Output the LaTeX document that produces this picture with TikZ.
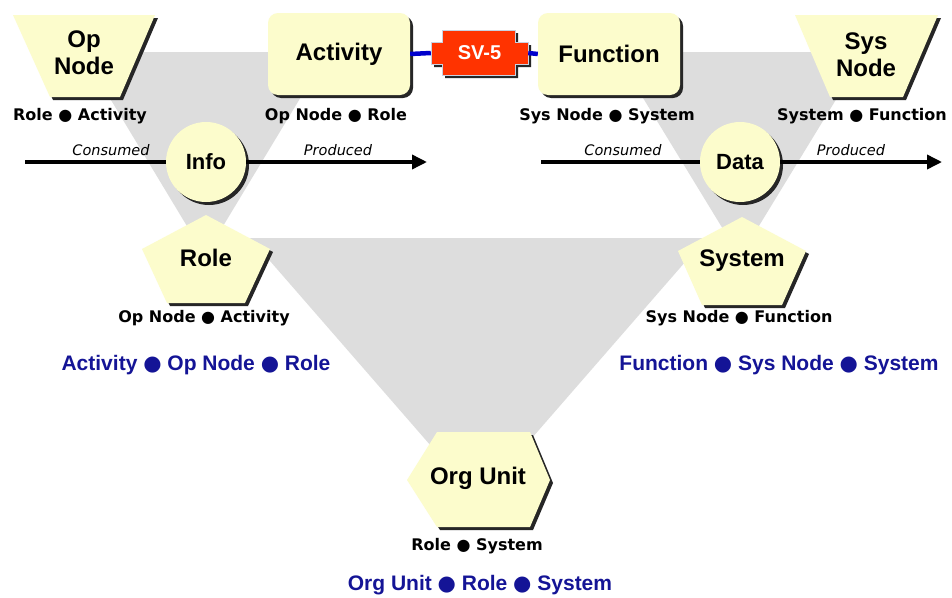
\documentclass[tikz,border=0pt]{standalone}
\usepackage{fontspec}
\setmainfont{Liberation Sans}
\newfontfamily\dvs{DejaVu Sans}
\usetikzlibrary{shadows,arrows.meta}
\definecolor{yel}{RGB}{252,252,204}
\definecolor{gry}{RGB}{221,221,221}
\definecolor{navyblue}{RGB}{20,20,150}
\definecolor{svred}{RGB}{255,51,0}
\definecolor{svedge}{RGB}{200,210,225}
\definecolor{lineblue}{RGB}{0,0,204}
\newcommand\bul{{\dvs ●}}
\tikzset{
  shad/.style={drop shadow={shadow xshift=3pt,shadow yshift=-3pt,opacity=1,fill=black!85}},
  yshape/.style={fill=yel,shad},
  bigtxt/.style={font=\fontsize{24}{27}\selectfont\bfseries,align=center,inner sep=0pt},
  boxnode/.style={rectangle,rounded corners=10pt,minimum width=142pt,minimum height=82pt,
    fill=yel,shad,font=\fontsize{24}{27}\selectfont\bfseries,inner sep=0pt},
  circnode/.style={circle,minimum size=80pt,fill=yel,shad,
    font=\fontsize{22}{24}\selectfont\bfseries,inner sep=0pt},
  lbl/.style={font=\dvs\fontsize{16}{18}\selectfont\bfseries,inner sep=0pt},
  bluelbl/.style={font=\fontsize{21}{24}\selectfont\bfseries,text=navyblue,inner sep=0pt},
  ital/.style={font=\dvs\fontsize{14.5}{16}\selectfont\itshape,inner sep=0pt},
  flowin/.style={line width=3.5pt},
  flowout/.style={line width=3.5pt,-{Triangle[length=15pt,width=14pt]}},
  link/.style={line width=4.5pt,lineblue}
}
\begin{document}
\begin{tikzpicture}[x=1pt,y=-1pt]
\useasboundingbox[fill=white] (0,0) rectangle (952,597);
% gray triangles
\fill[gry] (82,52) -- (328,52) -- (205,256) -- cycle;
\fill[gry] (615,52) -- (865,52) -- (740,257) -- cycle;
\fill[gry] (250,238) -- (706,238) -- (478,500) -- cycle;

% named free ends of flow lines
\coordinate (infoin)  at (25,162);
\coordinate (infoout) at (427,162);
\coordinate (datain)  at (541,162);
\coordinate (dataout) at (942,162);

% circles
\node[circnode] (info) at (206,162) {Info};
\node[circnode] (data) at (740,162) {Data};
\draw[flowin]  (infoin) -- (info.west);
\draw[flowout] (info.east) -- (infoout);
\draw[flowin]  (datain) -- (data.west);
\draw[flowout] (data.east) -- (dataout);
\node[ital] (cons1) at (111,150) {Consumed};
\node[ital] (prod1) at (338,150) {Produced};
\node[ital] (cons2) at (623,150) {Consumed};
\node[ital] (prod2) at (851,150) {Produced};

% trapezoids
\path[yshape] (13,15) -- (155,15) -- (120,97) -- (50,97) -- cycle;
\node[bigtxt] (opnode) at (84,53) {Op\\Node};
\path[yshape] (795,15) -- (938,15) -- (903,97) -- (830,97) -- cycle;
\node[bigtxt] (sysnode) at (866,55) {Sys\\Node};

% boxes
\node[boxnode] (activity) at (339,54) {Activity};
\node[boxnode] (function) at (609,54) {Function};

% SV-5
\path[fill=svred,draw=svedge,line width=1pt,shad]
  (431,42) -- (442,42) -- (442,30) -- (515,30) -- (515,42) -- (528,42)
  -- (528,64) -- (515,64) -- (515,75) -- (442,75) -- (442,64) -- (431,64) -- cycle;
\node[minimum width=97pt,minimum height=22pt,inner sep=0pt,text=white,
  font=\fontsize{20}{22}\selectfont\bfseries] (sv5) at (479.5,53) {SV-5};
\draw[link] (activity.east) -- (sv5.west);
\draw[link] (sv5.east) -- (function.west);

% pentagons
\path[yshape] (206,215) -- (270,249) -- (245,303) -- (167,303) -- (142,249) -- cycle;
\node[bigtxt] (role) at (206,258) {Role};
\path[yshape] (742,217) -- (806,251) -- (782,305) -- (702,305) -- (678,251) -- cycle;
\node[bigtxt] (system) at (742,261) {System};

% hexagon
\path[yshape] (437,432) -- (530,432) -- (550,480) -- (530,527) -- (437,527) -- (407,480) -- cycle;
\node[bigtxt] (orgunit) at (478,478) {Org Unit};

% black labels
\node[lbl] (l1) at (80,116) {Role \bul{} Activity};
\node[lbl] (l2) at (336,116) {Op Node \bul{} Role};
\node[lbl] (l3) at (607,116) {Sys Node \bul{} System};
\node[lbl] (l4) at (862,116) {System \bul{} Function};
\node[lbl] (l5) at (204,318) {Op Node \bul{} Activity};
\node[lbl] (l6) at (739,318) {Sys Node \bul{} Function};
\node[lbl] (l7) at (477,546) {Role \bul{} System};

% blue labels
\node[bluelbl] (b1) at (196,365) {Activity \bul{} Op Node \bul{} Role};
\node[bluelbl] (b2) at (779,365) {Function \bul{} Sys Node \bul{} System};
\node[bluelbl] (b3) at (480,585) {Org Unit \bul{} Role \bul{} System};
\end{tikzpicture}
\end{document}
